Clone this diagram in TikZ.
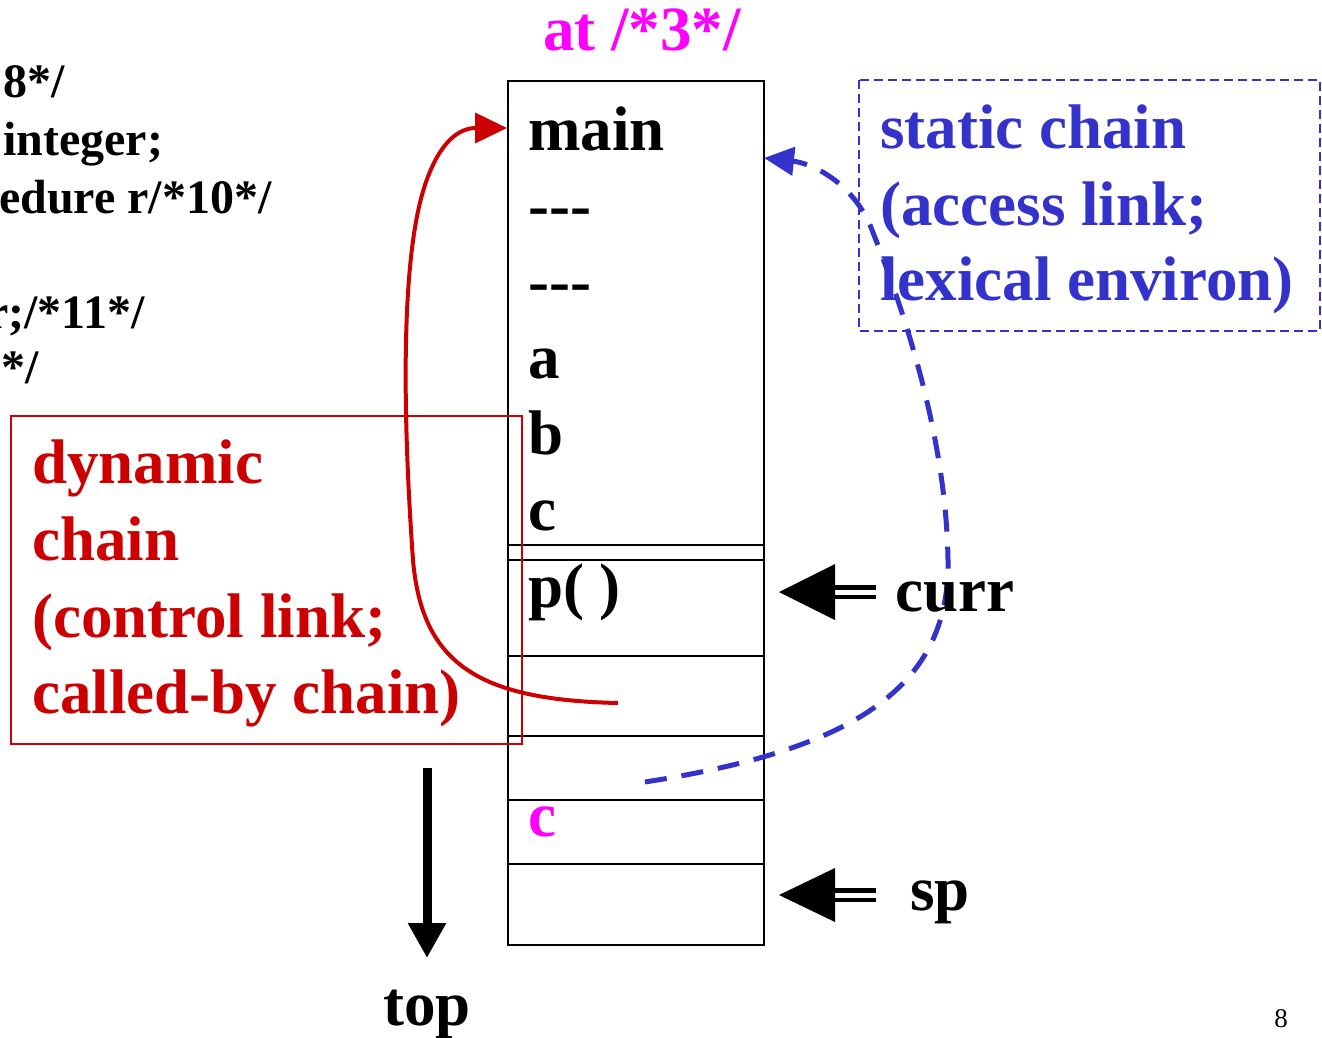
\documentclass[tikz,border=0pt]{standalone}
\usepackage{fontspec}
\setmainfont{Liberation Serif}
\usetikzlibrary{arrows.meta}
\definecolor{dynred}{HTML}{CC0000}
\definecolor{statblue}{HTML}{3333CC}
\definecolor{mag}{HTML}{FF00FF}
\begin{document}
\begin{tikzpicture}[x=1pt,y=-1pt,
  big/.style={font=\fontsize{63}{76}\selectfont\bfseries, inner sep=0pt, anchor=base west},
  code/.style={font=\fontsize{48}{58}\selectfont\bfseries, inner sep=0pt, anchor=base west},
  cellline/.style={draw=black, line width=2pt},
  shaft/.style={line width=4.5pt, double=white, double distance=5pt},
  ptrhead/.style={fill=black}]
\useasboundingbox (0,0) rectangle (1322,1038);
\clip (0,0) rectangle (1322,1038);

% code fragment (cut at the left edge)
\node[code] (c1) at (3,98) {8*/};
\node[code] (c2) at (3,156) {integer;};
\node[code] (c3) at (-1,213) {edure r/*10*/};
\node[code] (c4) at (-13,328) {r;/*11*/};
\node[code] (c5) at (1,383) {*/};

% title
\node[big, text=mag] (title) at (543,51) {at /*3*/};

% stack
\node[draw=black, line width=2pt, minimum width=256pt, minimum height=864pt,
      inner sep=0pt, anchor=north west] (stack) at (507,80) {};
\foreach \yy in {545,560,656,736,800,864}
  \draw[cellline] (stack.west |- 0,\yy) -- (stack.east |- 0,\yy);

\node[big] (main) at (528,150) {main};
\node[big] (d1) at (528,226) {-{}-{}-};
\node[big] (d2) at (528,302) {-{}-{}-};
\node[big] (va) at (528,378) {a};
\node[big] (vb) at (528,454) {b};
\node[big] (vc) at (528,530) {c};
\node[big] (pp) at (528,607) {p( )};
\node[big, text=mag] (cc) at (528,836) {c};

% static chain box
\draw[statblue, line width=1.8pt, dash pattern=on 9pt off 5pt] (859,80) rectangle (1320,331);
\node[big, text=statblue] (s1) at (880,148) {static chain};
\node[big, text=statblue] (s2) at (880,225) {(access link;};
\node[big, text=statblue] (s3) at (880,300) {lexical environ)};

% dynamic chain box
\draw[dynred, line width=1.5pt] (11,416) rectangle (522,744);
\node[big, text=dynred] (r1) at (32,483) {dynamic};
\node[big, text=dynred] (r2) at (32,560) {chain};
\node[big, text=dynred] (r3) at (32,637) {(control link;};
\node[big, text=dynred] (r4) at (32,713) {called-by chain)};

% links
\coordinate (dl) at (618,703);
\coordinate (mainlink) at (507,128);
\draw[dynred, line width=4pt, -{Triangle[length=32pt,width=30pt]}]
  (dl) .. controls (480,700) and (422,665) .. (413,560)
       .. controls (403,420) and (400,260) .. (425,185)
       .. controls (440,140) and (460,128) .. (mainlink);

\coordinate (sl) at (645,782);
\coordinate (slink) at (764,158);
\draw[statblue, line width=5pt, dash pattern=on 22pt off 15pt, -{Triangle[length=30pt,width=28pt]}]
  (sl) .. controls (850,750) and (950,690) .. (948,560)
       .. controls (946,430) and (900,300) .. (870,225)
       .. controls (850,180) and (810,163) .. (slink);

% curr pointer
\node[big] (curr) at (895,611) {curr};
\coordinate (currtip) at (779,592);
\coordinate (currtail) at (876,592);
\draw[shaft] (currtail) -- (833,592);
\fill[ptrhead] (currtip) -- ++(56,-28) -- ++(0,56) -- cycle;

% sp pointer
\node[big] (sp) at (910,910) {sp};
\coordinate (sptip) at (779,895);
\coordinate (sptail) at (876,895);
\draw[shaft] (sptail) -- (833,895);
\fill[ptrhead] (sptip) -- ++(56,-27) -- ++(0,54) -- cycle;

% top arrow
\node[big, anchor=base] (top) at (427,1025) {top};
\coordinate (topstart) at (427,768);
\draw[line width=9pt, -{Triangle[length=35pt,width=36pt]}] (topstart) -- (top.north |- 0,958);

% page number
\node[font=\fontsize{27}{30}\selectfont, inner sep=0pt, anchor=base] (pg) at (1281,1027) {8};
\end{tikzpicture}
\end{document}
